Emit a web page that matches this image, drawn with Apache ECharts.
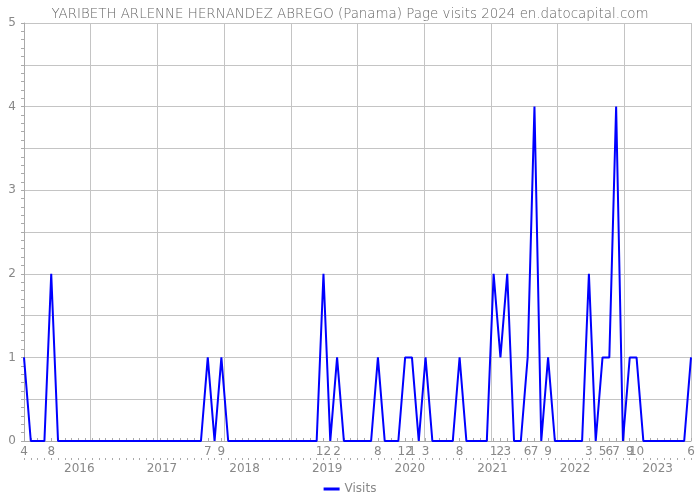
<!DOCTYPE html>
<html>
<head>
<meta charset="utf-8">
<script src="https://cdn.jsdelivr.net/npm/echarts@6/dist/echarts.min.js"></script>
<style>html,body{margin:0;padding:0;background:#fff}#c{width:700px;height:500px}</style>
</head>
<body>
<div id="c"></div>
<script>
var titleText = 'YARIBETH ARLENNE HERNANDEZ ABREGO (Panama) Page visits 2024 en.datocapital.com';
var seriesName = 'Visits';
// Monthly categories from 2015-04 to 2023-06
var firstMonth = '2015-04';
var lastMonth = '2023-06';
var months = [];
(function(){
  var y = 2015, m = 4;
  while (true) {
    var s = y + '-' + (m < 10 ? '0' + m : m);
    months.push(s);
    if (s === lastMonth) break;
    m++; if (m > 12) { m = 1; y++; }
  }
})();
// Visits per month
var visits = [
  1, 0, 0, 0, 2, 0, 0, 0, 0,             // 2015-04..2015-12
  0, 0, 0, 0, 0, 0, 0, 0, 0, 0, 0, 0,    // 2016
  0, 0, 0, 0, 0, 0, 1, 0, 1, 0, 0, 0,    // 2017
  0, 0, 0, 0, 0, 0, 0, 0, 0, 0, 0, 2,    // 2018
  0, 1, 0, 0, 0, 0, 0, 1, 0, 0, 0, 1,    // 2019
  1, 0, 1, 0, 0, 0, 0, 1, 0, 0, 0, 0,    // 2020
  2, 1, 2, 0, 0, 1, 4, 0, 1, 0, 0, 0,    // 2021
  0, 0, 2, 0, 1, 1, 4, 0, 1, 1, 0, 0,    // 2022
  0, 0, 0, 0, 0, 1                       // 2023-01..2023-06
];
var yearLabels = [2016, 2017, 2018, 2019, 2020, 2021, 2022, 2023];
var yTicks = [0, 1, 2, 3, 4, 5];

var chart = echarts.init(document.getElementById('c'), null, {renderer: 'canvas'});
var gray = '#888';
var lineGray = '#aaa';
var gridGray = '#c4c4c4';
chart.setOption({
  animation: false,
  textStyle: {fontFamily: 'DejaVu Sans'},
  title: {
    text: titleText, left: 'center', top: 3,
    textStyle: {fontSize: 13.4, fontWeight: 200, color: '#666', fontFamily: 'DejaVu Sans'}
  },
  legend: {
    data: [seriesName], bottom: 0, icon: 'rect', itemWidth: 16, itemHeight: 3,
    textStyle: {color: gray, fontSize: 12}
  },
  grid: {left: 24, right: 9, top: 23, bottom: 59},
  xAxis: [
    {
      type: 'category', data: months, boundaryGap: false, position: 'bottom',
      axisLine: {lineStyle: {color: lineGray}},
      axisTick: {show: true, inside: true, length: 3, interval: 0, lineStyle: {color: lineGray}},
      axisLabel: {
        interval: function (i) { return visits[i] !== 0; },
        formatter: function (v) { return String(parseInt(v.slice(5), 10)); },
        color: gray, fontSize: 12, margin: 5
      },
      splitLine: {show: false}
    },
    {
      type: 'category', data: months, boundaryGap: false, position: 'bottom', offset: 17,
      axisLine: {show: false},
      axisTick: {show: true, interval: 0, length: 2, lineStyle: {color: lineGray}},
      axisLabel: {show: false},
      splitLine: {show: false}
    },
    {
      type: 'value', min: 2015.331, max: 2023.403, position: 'bottom', offset: 17,
      axisLine: {show: false}, axisTick: {show: false}, splitLine: {show: false},
      axisLabel: {customValues: yearLabels, formatter: function (v) { return String(Math.round(v)); }, color: gray, fontSize: 12, margin: 5}
    },
    {
      type: 'value', min: 0, max: 10, interval: 1, position: 'bottom',
      axisLine: {show: false}, axisTick: {show: false}, axisLabel: {show: false},
      splitLine: {show: true, lineStyle: {color: gridGray}}
    }
  ],
  yAxis: {
    type: 'value', min: 0, max: 5, interval: 0.5,
    axisLine: {show: true, lineStyle: {color: lineGray}},
    axisTick: {show: true, length: 3, lineStyle: {color: lineGray}},
    minorTick: {show: true, splitNumber: 5, length: 3, lineStyle: {color: lineGray}},
    axisLabel: {
      formatter: function (v) { return yTicks.indexOf(v) >= 0 ? String(v) : ''; },
      color: gray, fontSize: 12, margin: 8
    },
    splitLine: {show: true, lineStyle: {color: gridGray}}
  },
  series: [{
    name: seriesName, type: 'line', data: visits, xAxisIndex: 0, yAxisIndex: 0,
    symbol: 'none', color: '#0000ff', lineStyle: {color: '#0000ff', width: 2}
  }]
});
</script>
</body>
</html>
